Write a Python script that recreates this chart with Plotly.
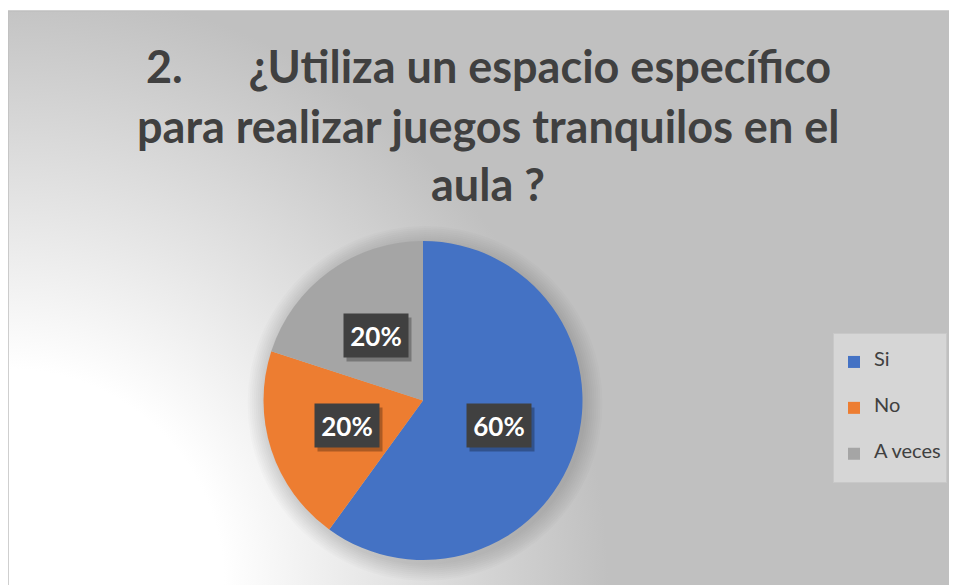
import base64
import math
import plotly.graph_objects as go

# ---- data ----
labels = ["Si", "No", "A veces"]
values = [60, 20, 20]
colors = ["#4472C4", "#ED7D31", "#A5A5A5"]
title_lines = [
    "2.\u00a0\u00a0\u00a0\u00a0\u00a0 ¿Utiliza un espacio específico",
    "para realizar juegos tranquilos en el",
    "aula ?",
]

## page geometry (screen pixels; the page body adds an 8px offset)
OFF = 8
W, H = 957 - OFF, 585 - OFF
ML, MT = 0, 3
PW, PH = W - ML, H - MT
CX, CY, R = 423, 400.5, 159.5  # pie centre / radius on screen


def px_x(x):
    return (x - OFF - ML) / PW


def px_y(y):
    return (H - (y - OFF)) / PH


## radial gradient background from the lower left corner
svg = (
    f'<svg xmlns="http://www.w3.org/2000/svg" width="{PW}" height="{PH}" '
    f'viewBox="0 0 {PW} {PH}" preserveAspectRatio="none">'
    f'<defs><radialGradient id="g" gradientUnits="userSpaceOnUse" cx="0" cy="{PH}" r="600">'
    '<stop offset="0.36" stop-color="#ffffff"/><stop offset="1" stop-color="#c0c0c0"/>'
    '</radialGradient></defs>'
    f'<rect width="{PW}" height="{PH}" fill="url(#g)"/></svg>'
)
bg_src = "data:image/svg+xml;base64," + base64.b64encode(svg.encode()).decode()

pie = go.Pie(
    labels=[f" <br><span style='font-size:20px'>{l}</span><br> " for l in labels],
    values=values,
    marker=dict(colors=colors, line=dict(width=0)),
    sort=False,
    direction="clockwise",
    rotation=0,
    textinfo="none",
    hoverinfo="percent",
    domain=dict(x=[px_x(CX - R), px_x(CX + R)], y=[px_y(CY + R), px_y(CY - R)]),
)

fig = go.Figure(data=[pie])

# soft shadow behind the pie
shapes = []
for i in range(9):
    rr = R + 2 + i * 2
    shapes.append(dict(type="circle", xref="paper", yref="paper", layer="below",
                       x0=px_x(CX + 2 - rr), x1=px_x(CX + 2 + rr),
                       y0=px_y(CY + 3 + rr), y1=px_y(CY + 3 - rr),
                       fillcolor="rgba(0,0,0,0.016)", line=dict(width=0)))
# chart frame, left and top edges only (the rest runs off the page)
shapes.append(dict(type="line", xref="paper", yref="paper", x0=0, x1=0, y0=0, y1=1,
                   line=dict(color="#BFBFBF", width=1.5)))
shapes.append(dict(type="line", xref="paper", yref="paper", x0=0, x1=1, y0=1, y1=1,
                   line=dict(color="#BFBFBF", width=1.5)))

annotations = []
# title
for line, yc in zip(title_lines, [66, 126, 184]):
    annotations.append(dict(text=line, xref="paper", yref="paper", x=px_x(488), y=px_y(yc),
                            xanchor="center", yanchor="middle", showarrow=False,
                            font=dict(family="Lato", size=45, color="#404040", weight="bold")))

# data labels on the slices
total = sum(values)
start = 0.0
for v in values:
    mid = (start + v / 2) / total * 2 * math.pi
    start += v
    lx = CX + 0.5 * R * math.sin(mid)
    ly = CY - 0.5 * R * math.cos(mid)
    common = dict(xref="paper", yref="paper", x=px_x(lx), y=px_y(ly),
                  xanchor="center", yanchor="middle", showarrow=False,
                  width=54, height=33, borderpad=5)
    # drop shadow box
    annotations.append(dict(common, text=" ", xshift=3, yshift=-4,
                            bgcolor="rgba(0,0,0,0.28)", font=dict(size=10)))
    annotations.append(dict(common, text=f"{round(v / total * 100)}%", bgcolor="#404040",
                            font=dict(family="Lato", size=26, color="#FFFFFF", weight="bold")))

fig.update_layout(
    width=W, height=H,
    margin=dict(l=ML, r=0, t=MT, b=0, pad=0),
    paper_bgcolor="#FFFFFF",
    images=[dict(source=bg_src, xref="paper", yref="paper", x=0, y=1, sizex=1, sizey=1,
                 xanchor="left", yanchor="top", sizing="stretch", layer="below")],
    shapes=shapes,
    annotations=annotations,
    showlegend=True,
    legend=dict(x=px_x(833), y=px_y(333), xanchor="left", yanchor="top",
                bgcolor="#D6D6D6", bordercolor="#C8C8C8", borderwidth=1,
                font=dict(family="Lato", size=11, color="#404040")),
)

fig.write_html("out.html")
